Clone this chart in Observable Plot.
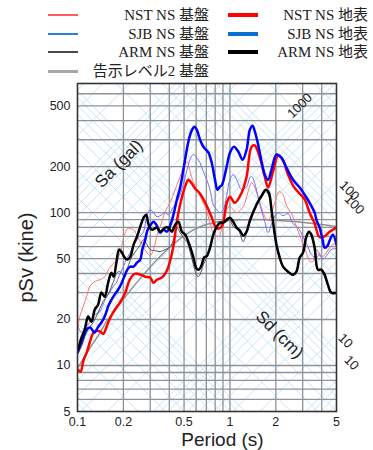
<!DOCTYPE html>
<html><head><meta charset="utf-8">
<script src="https://cdn.jsdelivr.net/npm/d3@7"></script>
<script src="https://cdn.jsdelivr.net/npm/@observablehq/plot@0.6"></script>
<style>
body{margin:0;background:#fff;}
#wrap{position:relative;width:373px;height:450px;overflow:hidden;background:#fff;}
#legend{position:relative;width:373px;height:80px;font-family:"Liberation Serif","Noto Sans CJK JP",serif;font-size:15px;color:#222;}
.sw{position:absolute;}
.lb{position:absolute;white-space:nowrap;transform:translate(-100%,-50%);line-height:16px;}
#chart svg{display:block;overflow:visible;}
</style></head>
<body><div id="wrap"><div id="legend"></div><div id="chart"></div></div>
<script>
// ---- data: [period (s), pSv (kine)] ----
const nstBase = [[0.1005,17.2],[0.1035,20.9],[0.109,24.3],[0.1146,28.2],[0.1203,32.8],[0.1297,35.4],[0.1399,36.4],[0.1508,38.1],[0.1626,43.7],[0.1753,47.1],[0.1853,50.8],[0.1939,59.0],[0.2028,70.7],[0.2123,78.6],[0.222,78.6],[0.2333,77.4],[0.2455,70.7],[0.2648,61.7],[0.2825,55.6],[0.30,52.3],[0.3152,57.3],[0.3334,71.8],[0.3487,81.0],[0.3759,101.5],[0.4054,116.3],[0.4371,141.4],[0.4711,172],[0.5004,203],[0.5236,215.7],[0.5477,185.5],[0.5731,159.5],[0.6204,135.2],[0.6866,109.5],[0.7401,86.0],[0.7776,74.0],[0.8385,69.7],[0.8826,77.4],[0.9515,104.6],[1.0,109.5],[1.106,100],[1.222,109.5],[1.317,137.3],[1.386,157.2],[1.457,145.7],[1.571,116.3],[1.693,94.1],[1.779,88.6],[1.968,116.3],[2.1,137.3],[2.23,131.2],[2.348,111.1],[2.531,98.5],[2.729,81.0],[2.942,66.6],[3.172,54.7],[3.358,47.8],[3.502,47.8],[3.704,57.3],[3.975,50.8],[4.285,54.7],[4.621,60.8],[5.0,63.6]];
const sjbBase = [[0.101,17.9],[0.1062,16.4],[0.1128,17.7],[0.1203,19.1],[0.1297,21.5],[0.1399,22.5],[0.1472,25.0],[0.1547,28.2],[0.1626,30.0],[0.1711,32.8],[0.1799,34.8],[0.189,39.3],[0.1989,43.7],[0.2113,50.8],[0.222,54.7],[0.2333,61.7],[0.2516,68.6],[0.2713,75.1],[0.2855,97.0],[0.30,104.6],[0.3152,100],[0.3319,94.1],[0.3577,97.0],[0.3759,100],[0.3952,97.0],[0.4159,104.6],[0.4371,112.8],[0.4572,121.6],[0.483,141.4],[0.508,169.4],[0.534,206.1],[0.562,236],[0.5817,239.7],[0.606,229],[0.6366,212.4],[0.669,185.5],[0.7042,164.4],[0.7401,141.4],[0.7776,112.8],[0.8187,104.6],[0.8602,100],[0.904,104.6],[0.9515,129.2],[1.0,164.4],[1.051,177.3],[1.106,164.4],[1.193,141.4],[1.286,148],[1.351,169.4],[1.392,172],[1.457,154.8],[1.571,112.8],[1.693,87.3],[1.779,74.0],[1.919,90.0],[2.069,100],[2.23,95.6],[2.405,98.5],[2.593,84.7],[2.795,79.8],[3.014,69.7],[3.25,59.9],[3.42,53.1],[3.704,50.8],[3.874,53.9],[4.072,49.3],[4.305,52.3],[4.621,57.3],[5.0,58.2]];
const armBase = [[0.101,12.1],[0.1062,13.3],[0.1116,15.4],[0.1175,17.2],[0.1267,19.1],[0.1365,22.2],[0.1472,26.2],[0.1588,29.1],[0.1711,34.8],[0.1845,41.1],[0.1939,40.5],[0.2038,38.1],[0.2164,45.7],[0.2278,51.5],[0.2455,57.3],[0.2581,61.7],[0.2713,66.6],[0.2855,61.7],[0.30,57.3],[0.3235,56.4],[0.3487,55.6],[0.3759,57.3],[0.4054,59.9],[0.4261,66.6],[0.4483,79.8],[0.4711,74.0],[0.4952,68.6],[0.521,64.6],[0.5477,55.6],[0.5756,45.7],[0.5995,39.9],[0.6176,38.1],[0.6366,39.3],[0.669,45.7],[0.7042,50.8],[0.7401,57.3],[0.7776,69.7],[0.8187,79.8],[0.8602,83.5],[0.9515,87.3],[1.0,90.0],[1.051,81.0],[1.133,77.4],[1.222,64.6],[1.286,74.0],[1.351,86.0],[1.494,111.1],[1.612,125.3],[1.719,137.3],[1.799,129.2],[1.873,100],[1.94,77.4],[2.02,59.9],[2.122,49.3],[2.23,43.7],[2.405,40.5],[2.593,38.7],[2.729,41.1],[2.868,50.0],[3.014,53.9],[3.172,68.6],[3.298,74.0],[3.42,69.7],[3.594,57.3],[3.777,41.7],[3.975,41.7],[4.178,38.7],[4.39,33.3],[4.621,29.5],[5.0,29.5]];
const kokujiL2 = [[0.1,9.6],[0.12,12.9],[0.14,16.3],[0.16,20.2],[0.64,81],[5.0,81]];
const nstSurf = [[0.1005,9.4],[0.1047,9.1],[0.1095,10.8],[0.1154,12.3],[0.1207,14.3],[0.1282,16.6],[0.1351,16.9],[0.1416,16.6],[0.1479,16.1],[0.1559,18.2],[0.1643,20.6],[0.1758,23.2],[0.1896,25.8],[0.2044,29.5],[0.222,37.0],[0.2393,39.9],[0.2581,39.3],[0.2782,38.1],[0.30,37.6],[0.3152,34.8],[0.3319,36.4],[0.3577,37.6],[0.3857,41.7],[0.4054,48.5],[0.4261,60.8],[0.4483,87.3],[0.4711,112.8],[0.508,148],[0.534,164],[0.562,155],[0.5904,144],[0.6366,133],[0.7042,111],[0.7594,93],[0.8187,79],[0.8826,81],[0.9515,115],[1.0,127],[1.078,116],[1.193,135],[1.286,172],[1.386,270],[1.457,275],[1.571,229],[1.693,172],[1.779,146],[1.919,186],[2.069,236],[2.23,219],[2.405,177],[2.62,148],[2.868,133],[3.092,122],[3.334,100],[3.594,85],[3.874,69],[4.178,70],[4.505,75],[5.0,80]];
const sjbSurf = [[0.1,12.1],[0.1047,13.7],[0.1095,15.4],[0.1146,17.2],[0.1211,17.7],[0.1292,16.4],[0.1365,17.9],[0.1435,19.1],[0.1508,20.9],[0.1588,24.3],[0.1668,26.9],[0.1753,29.1],[0.1845,31.3],[0.1939,34.3],[0.2038,38.7],[0.2123,42.4],[0.222,44.3],[0.2333,44.3],[0.2455,47.1],[0.2581,49.3],[0.266,57.3],[0.2782,66.6],[0.2868,76.2],[0.30,82.2],[0.3152,87.3],[0.3319,82.2],[0.3487,74.0],[0.3664,77.4],[0.3857,75.1],[0.4054,82.2],[0.4261,97.0],[0.4483,121.6],[0.4711,145.7],[0.4952,191.2],[0.521,258.4],[0.5436,314],[0.5647,349],[0.585,365],[0.606,349],[0.6366,300],[0.669,270],[0.6967,258],[0.7236,247],[0.7594,212],[0.798,164],[0.8286,141],[0.8602,148],[0.8864,152],[0.9515,200],[1.0,247],[1.062,270],[1.133,251],[1.211,222],[1.286,258],[1.351,349],[1.407,371],[1.457,339],[1.531,279],[1.619,212],[1.693,177],[1.779,164],[1.873,191],[2.02,240],[2.177,229],[2.348,197],[2.593,164],[2.868,146],[3.092,131],[3.334,116],[3.594,100],[3.704,88.6],[3.874,79.8],[4.053,66.6],[4.178,59.0],[4.37,60.8],[4.505,65.6],[4.734,71.8],[5.0,61.7]];
const armSurf = [[0.101,12.7],[0.1062,15.2],[0.1116,17.2],[0.1175,20.9],[0.1234,19.3],[0.1297,23.2],[0.1365,25.0],[0.1435,30.0],[0.1508,28.2],[0.1588,34.8],[0.1668,40.5],[0.1727,38.1],[0.1799,47.1],[0.1873,57.3],[0.1939,55.6],[0.2038,50.8],[0.2123,49.3],[0.222,51.5],[0.2333,61.7],[0.2455,69.7],[0.2581,81.0],[0.2713,92.7],[0.2825,97.0],[0.2924,83.5],[0.3077,77.4],[0.3319,79.8],[0.3487,75.1],[0.3759,79.8],[0.3952,79.8],[0.4159,75.1],[0.4371,83.5],[0.4594,87.3],[0.483,75.1],[0.508,71.8],[0.5477,59.9],[0.5756,50.8],[0.604,43.0],[0.627,42.4],[0.6531,45.7],[0.6763,50.8],[0.7075,52.3],[0.7401,59.0],[0.7776,71.8],[0.8187,81.0],[0.8602,86.0],[0.904,86.0],[0.9515,90.0],[1.0,92.7],[1.051,87.3],[1.106,79.8],[1.163,76.2],[1.222,70.7],[1.286,75.1],[1.351,88.6],[1.494,112.8],[1.612,129.2],[1.719,141.4],[1.799,135.2],[1.873,104.6],[1.94,79.8],[2.02,61.7],[2.122,50.8],[2.23,44.3],[2.405,41.1],[2.593,39.3],[2.729,41.1],[2.868,50.8],[3.014,54.7],[3.172,69.7],[3.298,75.1],[3.42,71.8],[3.594,59.0],[3.777,42.4],[3.975,42.4],[4.178,39.3],[4.39,33.8],[4.621,30.0],[5.0,30.0]];

// ---- axes, grid, tripartite ----
const xTickValues = [0.1, 0.2, 0.5, 1, 2, 5];
const yTickValues = [5, 10, 20, 50, 100, 200, 500];
const xGridValues = [0.2,0.3,0.4,0.5,0.6,0.7,0.8,0.9,1,2,3,4];
const yGridValues = [6,7,8,9,10,20,30,40,50,60,70,80,90,100,200,300,400,500,600];
const saLevels = [1,10,100,1000,10000].flatMap(d => [1,2,3,4,5,6,7,8,9].map(m => m*d)); // gal
const sdLevels = [0.01,0.1,1,10,100].flatMap(d => [1,2,3,4,5,6,7,8,9].map(m => +(m*d).toPrecision(3))); // cm
const periodEnds = [0.1, 5];

// ---- labels ----
const legendLabels = ["NST NS 基盤","SJB NS 基盤","ARM NS 基盤","告示レベル2 基盤","NST NS 地表","SJB NS 地表","ARM NS 地表"];
const annoText = ["Sa (gal)", "Sd (cm)", "1000", "100", "100", "10", "10"];
const annoT    = [0.187, 2.12, 2.87, 6.08, 6.56, 5.73, 6.27];
const annoSv   = [209, 15.9, 501, 139, 113, 14.5, 10.4];

// ---- legend (HTML) ----
const legendStyle = [
  {col:0,row:0,color:"#ff5c5c",w:2},
  {col:0,row:1,color:"#2a7fd6",w:2},
  {col:0,row:2,color:"#4a4a4a",w:2},
  {col:0,row:3,color:"#a8a8a8",w:3},
  {col:1,row:0,color:"#ff0000",w:3.5},
  {col:1,row:1,color:"#0a6fd0",w:3.5},
  {col:1,row:2,color:"#000000",w:3.5}
];
const rowY = [15, 34, 52, 71];
const swX = [48, 228], textR = [209, 368];
const leg = document.getElementById("legend");
legendLabels.forEach((lab, i) => {
  const s = legendStyle[i];
  const sw = document.createElement("div");
  sw.className = "sw";
  sw.style.left = swX[s.col] + "px";
  sw.style.width = "30px";
  sw.style.top = (rowY[s.row] - s.w/2) + "px";
  sw.style.height = s.w + "px";
  sw.style.background = s.color;
  leg.appendChild(sw);
  const t = document.createElement("div");
  t.className = "lb";
  t.style.left = textR[s.col] + "px";
  t.style.top = rowY[s.row] + "px";
  t.textContent = lab;
  leg.appendChild(t);
});

// ---- build rows ----
const rows = a => a.map(([T, v]) => ({T, v}));
const diag = [];
saLevels.forEach(sa => periodEnds.forEach(T => diag.push({k: "a" + sa, T, v: sa * T / (2 * Math.PI)})));
sdLevels.forEach(sd => periodEnds.forEach(T => diag.push({k: "d" + sd, T, v: 2 * Math.PI * sd / T})));
const annos = annoText.map((t, i) => ({t, T: annoT[i], v: annoSv[i], r: i === 0 || i === 2 ? -45 : 45, fs: i < 2 ? 17 : 13}));

const line = (data, stroke, w, extra = {}) =>
  Plot.line(rows(data), {x: "T", y: "v", stroke, strokeWidth: w, curve: "catmull-rom", strokeLinejoin: "round", clip: true, ...extra});

const chart = Plot.plot({
  width: 373, height: 370,
  marginLeft: 77, marginRight: 37, marginTop: 3, marginBottom: 39,
  style: {fontFamily: "'Liberation Sans', Arial, sans-serif", fontSize: "12.5px", color: "#222", background: "transparent"},
  x: {type: "log", domain: [0.1, 5]},
  y: {type: "log", domain: [5, 700]},
  marks: [
    Plot.line(diag, {x: "T", y: "v", z: "k", stroke: "#bfe2f6", strokeWidth: 0.9, clip: true}),
    Plot.ruleX(xGridValues, {stroke: "#8f9397", strokeWidth: 1.3}),
    Plot.ruleY(yGridValues, {stroke: "#8f9397", strokeWidth: 1.3}),
    line(kokujiL2, "#8e8e8e", 1.4),
    line(nstBase, "#ff7676", 1),
    line(sjbBase, "#7070ff", 1),
    line(armBase, "#555555", 1),
    line(nstSurf, "#ff0000", 2.5),
    line(sjbSurf, "#0000ff", 2.5),
    line(armSurf, "#000000", 2.5),
    Plot.frame({stroke: "#333", strokeWidth: 1.6}),
    Plot.axisX(xTickValues, {text: d => String(d), tickSize: 0, tickPadding: 6, label: null, fontSize: 12.5, fill: "#222"}),
    Plot.axisY(yTickValues, {text: d => String(d), tickSize: 0, tickPadding: 7, label: null, fontSize: 12.5, fill: "#222"}),
    Plot.text(annos, {x: "T", y: "v", text: "t", rotate: "r", fontSize: "fs", fill: "#222"}),
    Plot.text(["pSv (kine)"], {frameAnchor: "left", textAnchor: "middle", lineAnchor: "middle", dx: -51, dy: 10, rotate: -90, fontSize: 20, fill: "#222"}),
    Plot.text(["Period (s)"], {frameAnchor: "bottom", textAnchor: "middle", lineAnchor: "middle", dx: 15.5, dy: 28.5, fontSize: 19, fill: "#222"})
  ]
});
document.getElementById("chart").appendChild(chart);
</script>
</body></html>
